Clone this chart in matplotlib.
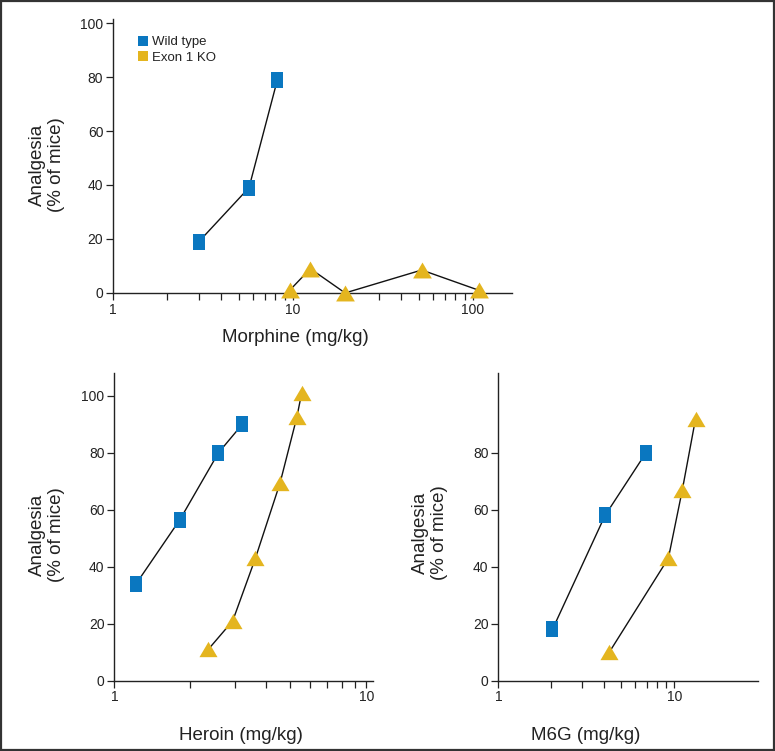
import numpy as np
import matplotlib
matplotlib.use('Agg')
import matplotlib.pyplot as plt
from matplotlib.lines import Line2D
from matplotlib.patches import Rectangle
from matplotlib.path import Path
from matplotlib.ticker import FixedLocator, NullFormatter

# data
morph_wt_x = [3.0, 5.7, 8.2]
morph_wt_y = [19, 39, 79]
morph_ko_x = [9.6, 12.5, 19.5, 52, 108]
morph_ko_y = [1, 9, 0, 8.5, 1]

her_wt_x = [1.22, 1.82, 2.59, 3.22]
her_wt_y = [34, 56.5, 80, 90]
her_ko_x = [2.36, 2.95, 3.63, 4.55, 5.3, 5.54]
her_ko_y = [11, 21, 43, 69.5, 92.5, 101]

m6g_wt_x = [2.03, 4.04, 6.9]
m6g_wt_y = [18, 58, 80]
m6g_ko_x = [4.27, 9.25, 11.1, 13.2]
m6g_ko_y = [10, 43, 67, 92]

blue = '#0A77C0'
gold = '#E4B51F'
plt.rcParams['font.family'] = ['Liberation Sans', 'DejaVu Sans']

sq = Path([(-0.75, -1), (0.75, -1), (0.75, 1), (-0.75, 1), (-0.75, -1)],
          [Path.MOVETO, Path.LINETO, Path.LINETO, Path.LINETO, Path.CLOSEPOLY])
tri = Path([(-1, -0.85), (1, -0.85), (0, 0.85), (-1, -0.85)],
           [Path.MOVETO, Path.LINETO, Path.LINETO, Path.CLOSEPOLY])

fig = plt.figure(figsize=(7.75, 7.51), dpi=100)


def style(ax, xlim, ylim, yticks, xlabels, minor):
    ax.set_xscale('log')
    ax.set_xlim(*xlim)
    ax.set_ylim(*ylim)
    ax.set_yticks(yticks)
    ax.xaxis.set_major_locator(FixedLocator(list(xlabels)))
    ax.set_xticklabels([str(v) for v in xlabels])
    ax.xaxis.set_minor_locator(FixedLocator(minor))
    ax.xaxis.set_minor_formatter(NullFormatter())
    for s in ['top', 'right']:
        ax.spines[s].set_visible(False)
    for s in ['left', 'bottom']:
        ax.spines[s].set_linewidth(1.0)
        ax.spines[s].set_color('#222222')
    ax.tick_params(which='both', direction='out', length=5, width=0.9,
                   labelsize=10, color='#222222', labelcolor='#222222', pad=2)


def series(ax, x, y, marker, color, ms):
    ax.plot(x, y, color='#111111', lw=1.0, zorder=2)
    ax.plot(x, y, ls='none', marker=marker, color=color, markersize=ms,
            markeredgewidth=0, zorder=3, clip_on=False)


minors = [2, 3, 4, 5, 6, 7, 8, 9]

# top panel: morphine
ax1 = fig.add_axes([0.1458, 0.6099, 0.5148, 0.3648])
series(ax1, morph_wt_x, morph_wt_y, sq, blue, 11.5)
series(ax1, morph_ko_x, morph_ko_y, tri, gold, 13.5)
style(ax1, (1, 165), (0, 101.5), [0, 20, 40, 60, 80, 100], [1, 10, 100],
      minors + [20, 30, 40, 50, 60, 70, 80, 90])
handles = [Line2D([], [], ls='none', marker='s', color=blue, markersize=7.5, markeredgewidth=0),
           Line2D([], [], ls='none', marker='s', color=gold, markersize=7.5, markeredgewidth=0)]
ax1.legend(handles, ['Wild type', 'Exon 1 KO'], loc='upper left', frameon=False,
           bbox_to_anchor=(0.171, 0.961), bbox_transform=fig.transFigure,
           fontsize=9.5, handlelength=0.6, handletextpad=0.35, labelspacing=0.25,
           borderpad=0, labelcolor='#222222')

# bottom left: heroin
ax2 = fig.add_axes([0.1475, 0.0936, 0.3342, 0.4097])
series(ax2, her_wt_x, her_wt_y, sq, blue, 12)
series(ax2, her_ko_x, her_ko_y, tri, gold, 13)
style(ax2, (1, 10.66), (0, 108), [0, 20, 40, 60, 80, 100], [1, 10], minors)

# bottom right: M6G
ax3 = fig.add_axes([0.643, 0.0936, 0.3355, 0.4097])
series(ax3, m6g_wt_x, m6g_wt_y, sq, blue, 12)
series(ax3, m6g_ko_x, m6g_ko_y, tri, gold, 13)
style(ax3, (1, 30), (0, 108), [0, 20, 40, 60, 80], [1, 10], minors)

# axis titles
ylab = 'Analgesia\n(% of mice)'
lab = dict(fontsize=13.5, color='#222222', ha='center', va='center')
fig.text(47 / 775, 1 - 165 / 751, ylab, rotation=90, linespacing=1.2, **lab)
fig.text(47 / 775, 1 - 535 / 751, ylab, rotation=90, linespacing=1.2, **lab)
fig.text(430 / 775, 1 - 533 / 751, ylab, rotation=90, linespacing=1.2, **lab)
fig.text(295 / 775, 1 - 338 / 751, 'Morphine (mg/kg)', **lab)
fig.text(241 / 775, 1 - 735 / 751, 'Heroin (mg/kg)', **lab)
fig.text(586 / 775, 1 - 735 / 751, 'M6G (mg/kg)', **lab)

# frame round the whole figure
fig.patches.append(Rectangle((0.0015, 0.0015), 0.997, 0.997, transform=fig.transFigure,
                             fill=False, lw=1.6, edgecolor='#333333'))

fig.savefig('out.png', dpi=100)
